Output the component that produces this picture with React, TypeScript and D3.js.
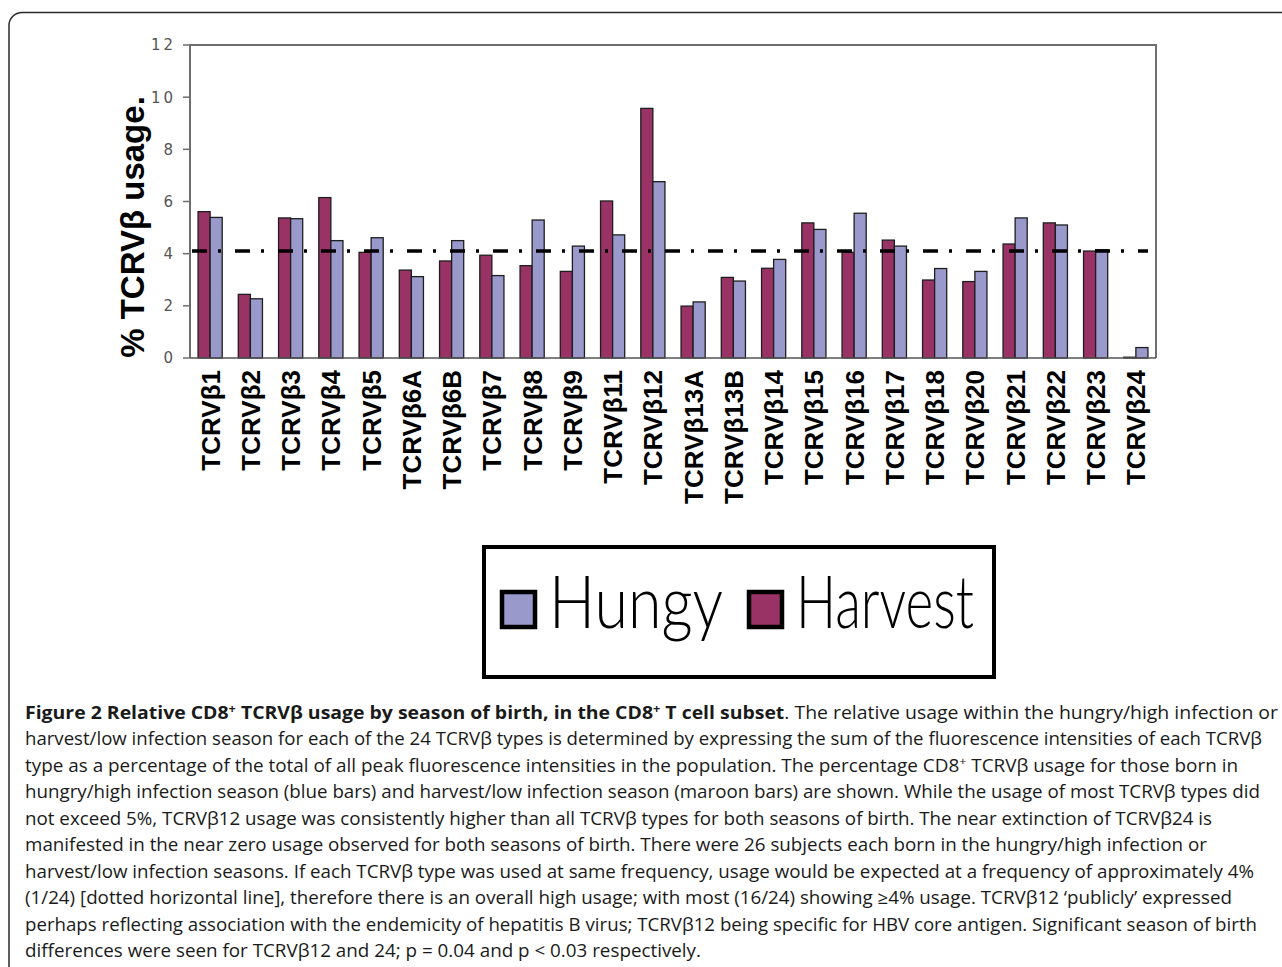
import * as d3 from "d3";

// categories and values (% usage)
const categories = [
  "TCRVβ1", "TCRVβ2", "TCRVβ3", "TCRVβ4", "TCRVβ5", "TCRVβ6A", "TCRVβ6B", "TCRVβ7",
  "TCRVβ8", "TCRVβ9", "TCRVβ11", "TCRVβ12", "TCRVβ13A", "TCRVβ13B", "TCRVβ14", "TCRVβ15",
  "TCRVβ16", "TCRVβ17", "TCRVβ18", "TCRVβ20", "TCRVβ21", "TCRVβ22", "TCRVβ23", "TCRVβ24",
];
const harvest = [5.61, 2.44, 5.37, 6.15, 4.05, 3.37, 3.72, 3.94, 3.54, 3.32, 6.02, 9.57, 1.99, 3.09, 3.44, 5.18, 4.05, 4.52, 2.99, 2.93, 4.37, 5.18, 4.10, 0.03];
const hungry = [5.39, 2.27, 5.34, 4.50, 4.61, 3.12, 4.50, 3.16, 5.29, 4.29, 4.72, 6.76, 2.15, 2.95, 3.78, 4.93, 5.55, 4.29, 3.43, 3.32, 5.37, 5.10, 4.15, 0.40];
const seriesNames = ["Harvest", "Hungy"];
const seriesColors = { Harvest: "#993366", Hungy: "#9999cc" };
const yTicks = [0, 2, 4, 6, 8, 10, 12];
const expectedUsage = 4.1;

// caption, one entry per printed line: [text, style] (b = bold, s = superscript)
const captionLines = [
  [["Figure 2 Relative CD8", "b"], ["+", "bs"], [" TCRVβ usage by season of birth, in the CD8", "b"], ["+", "bs"], [" T cell subset", "b"], [". The relative usage within the hungry/high infection or", ""]],
  [["harvest/low infection season for each of the 24 TCRVβ types is determined by expressing the sum of the fluorescence intensities of each TCRVβ", ""]],
  [["type as a percentage of the total of all peak fluorescence intensities in the population. The percentage CD8", ""], ["+", "s"], [" TCRVβ usage for those born in", ""]],
  [["hungry/high infection season (blue bars) and harvest/low infection season (maroon bars) are shown. While the usage of most TCRVβ types did", ""]],
  [["not exceed 5%, TCRVβ12 usage was consistently higher than all TCRVβ types for both seasons of birth. The near extinction of TCRVβ24 is", ""]],
  [["manifested in the near zero usage observed for both seasons of birth. There were 26 subjects each born in the hungry/high infection or", ""]],
  [["harvest/low infection seasons. If each TCRVβ type was used at same frequency, usage would be expected at a frequency of approximately 4%", ""]],
  [["(1/24) [dotted horizontal line], therefore there is an overall high usage; with most (16/24) showing ≥4% usage. TCRVβ12 ‘publicly’ expressed", ""]],
  [["perhaps reflecting association with the endemicity of hepatitis B virus; TCRVβ12 being specific for HBV core antigen. Significant season of birth", ""]],
  [["differences were seen for TCRVβ12 and 24; p = 0.04 and p < 0.03 respectively.", ""]],
];
const captionLineEnds = [1278, 1262, 1238, 1260, 1212, 1207, 1254, 1232, 1257, 701];

const W = 1282;
const H = 967;
const plot = { left: 190, right: 1156, top: 45, bottom: 358 };

export default function App() {
  const x0 = d3.scaleBand().domain(categories).range([plot.left, plot.right]).paddingInner(0.4).paddingOuter(0.2);
  const x1 = d3.scaleBand().domain(seriesNames).range([0, x0.bandwidth()]);
  const y = d3.scaleLinear().domain([0, 12]).range([plot.bottom, plot.top]);
  const values = { Harvest: harvest, Hungy: hungry };

  const capLeft = 25;
  const capTop = 719;
  const capStep = 26.45;
  const capSize = 17.5;

  return (
    <div style={{ position: "absolute", left: 0, top: 0, width: W, height: H, overflow: "hidden", background: "#fff" }}>
      <svg width={W} height={H} style={{ display: "block" }}>
        {/* figure frame */}
        <rect x={9} y={12.5} width={W + 40} height={H + 40} rx={13} fill="none" stroke="#2a2a2a" strokeWidth={1.5} />

        {/* plot frame */}
        <path
          d={`M${plot.left},${plot.bottom}V${plot.top}H${plot.right}V${plot.bottom}`}
          fill="none"
          stroke="#6e6e6e"
          strokeWidth={2}
        />

        {/* y axis ticks */}
        {yTicks.map((t) => (
          <g key={t}>
            <line x1={plot.left - 7} x2={plot.left} y1={y(t)} y2={y(t)} stroke="#6e6e6e" strokeWidth={1.5} />
            <text
              x={plot.left - 14}
              y={y(t)}
              dy="0.36em"
              textAnchor="end"
              fontFamily="DejaVu Sans, Liberation Sans, sans-serif"
              fontSize={15}
              letterSpacing={3}
              fill="#555"
            >
              {t}
            </text>
          </g>
        ))}

        {/* bars */}
        {categories.map((c, i) => (
          <g key={c} transform={`translate(${x0(c)},0)`}>
            {seriesNames.map((s) => (
              <rect
                key={s}
                x={x1(s)}
                y={y(values[s][i])}
                width={x1.bandwidth()}
                height={y(0) - y(values[s][i])}
                fill={seriesColors[s]}
                stroke="#1e1e1e"
                strokeWidth={1.3}
              />
            ))}
          </g>
        ))}

        {/* x axis line */}
        <line x1={plot.left} x2={plot.right} y1={plot.bottom} y2={plot.bottom} stroke="#555" strokeWidth={1.5} />

        {/* expected usage line (1/24) */}
        <line
          x1={plot.left + 2}
          x2={plot.right - 8}
          y1={y(expectedUsage)}
          y2={y(expectedUsage)}
          stroke="#000"
          strokeWidth={3.5}
          strokeDasharray="15 11 3 14"
        />

        {/* category labels */}
        {categories.map((c) => (
          <text
            key={c}
            transform={`translate(${x0(c) + x0.bandwidth() / 2},${plot.bottom + 12}) rotate(-90)`}
            dy="0.36em"
            textAnchor="end"
            fontFamily="Liberation Sans, Arial, sans-serif"
            fontWeight="bold"
            fontSize={26}
            fill="#000"
          >
            {c}
          </text>
        ))}

        {/* y title */}
        <text
          transform={`translate(144,227) rotate(-90)`}
          textAnchor="middle"
          fontFamily="Liberation Sans, Arial, sans-serif"
          fontWeight="bold"
          fontSize={33}
          fill="#000"
        >
          % TCRVβ usage.
        </text>

        {/* legend */}
        <rect x={484} y={547} width={510} height={130} fill="#fff" stroke="#000" strokeWidth={4} />
        <rect x={502} y={592} width={33} height={35} fill={seriesColors.Hungy} stroke="#000" strokeWidth={4.5} />
        <text
          x={549}
          y={628}
          textLength={174}
          lengthAdjust="spacingAndGlyphs"
          fontFamily="Lato, DejaVu Sans, sans-serif"
          fontWeight={300}
          fontSize={72}
          fill="#000"
        >
          Hungy
        </text>
        <rect x={749} y={592} width={33} height={35} fill={seriesColors.Harvest} stroke="#000" strokeWidth={4.5} />
        <text
          x={796}
          y={628}
          textLength={178}
          lengthAdjust="spacingAndGlyphs"
          fontFamily="Lato, DejaVu Sans, sans-serif"
          fontWeight={300}
          fontSize={72}
          fill="#000"
        >
          Harvest
        </text>

        {/* caption */}
        {captionLines.map((line, li) => {
          let prevSup = false;
          return (
            <text
              key={li}
              x={capLeft}
              y={capTop + li * capStep}
              textLength={captionLineEnds[li] - capLeft}
              lengthAdjust="spacingAndGlyphs"
              fontFamily="Open Sans, Noto Sans, sans-serif"
              fontSize={capSize}
              fill="#1a1a1a"
              style={{ whiteSpace: "pre" }}
            >
              {line.map(([txt, st], si) => {
                const sup = st.includes("s");
                const dy = sup ? -6.5 : prevSup ? 6.5 : 0;
                prevSup = sup;
                return (
                  <tspan
                    key={si}
                    dy={dy}
                    fontWeight={st.includes("b") ? "bold" : "normal"}
                    fontSize={sup ? 11.5 : capSize}
                  >
                    {txt}
                  </tspan>
                );
              })}
            </text>
          );
        })}
      </svg>
    </div>
  );
}
